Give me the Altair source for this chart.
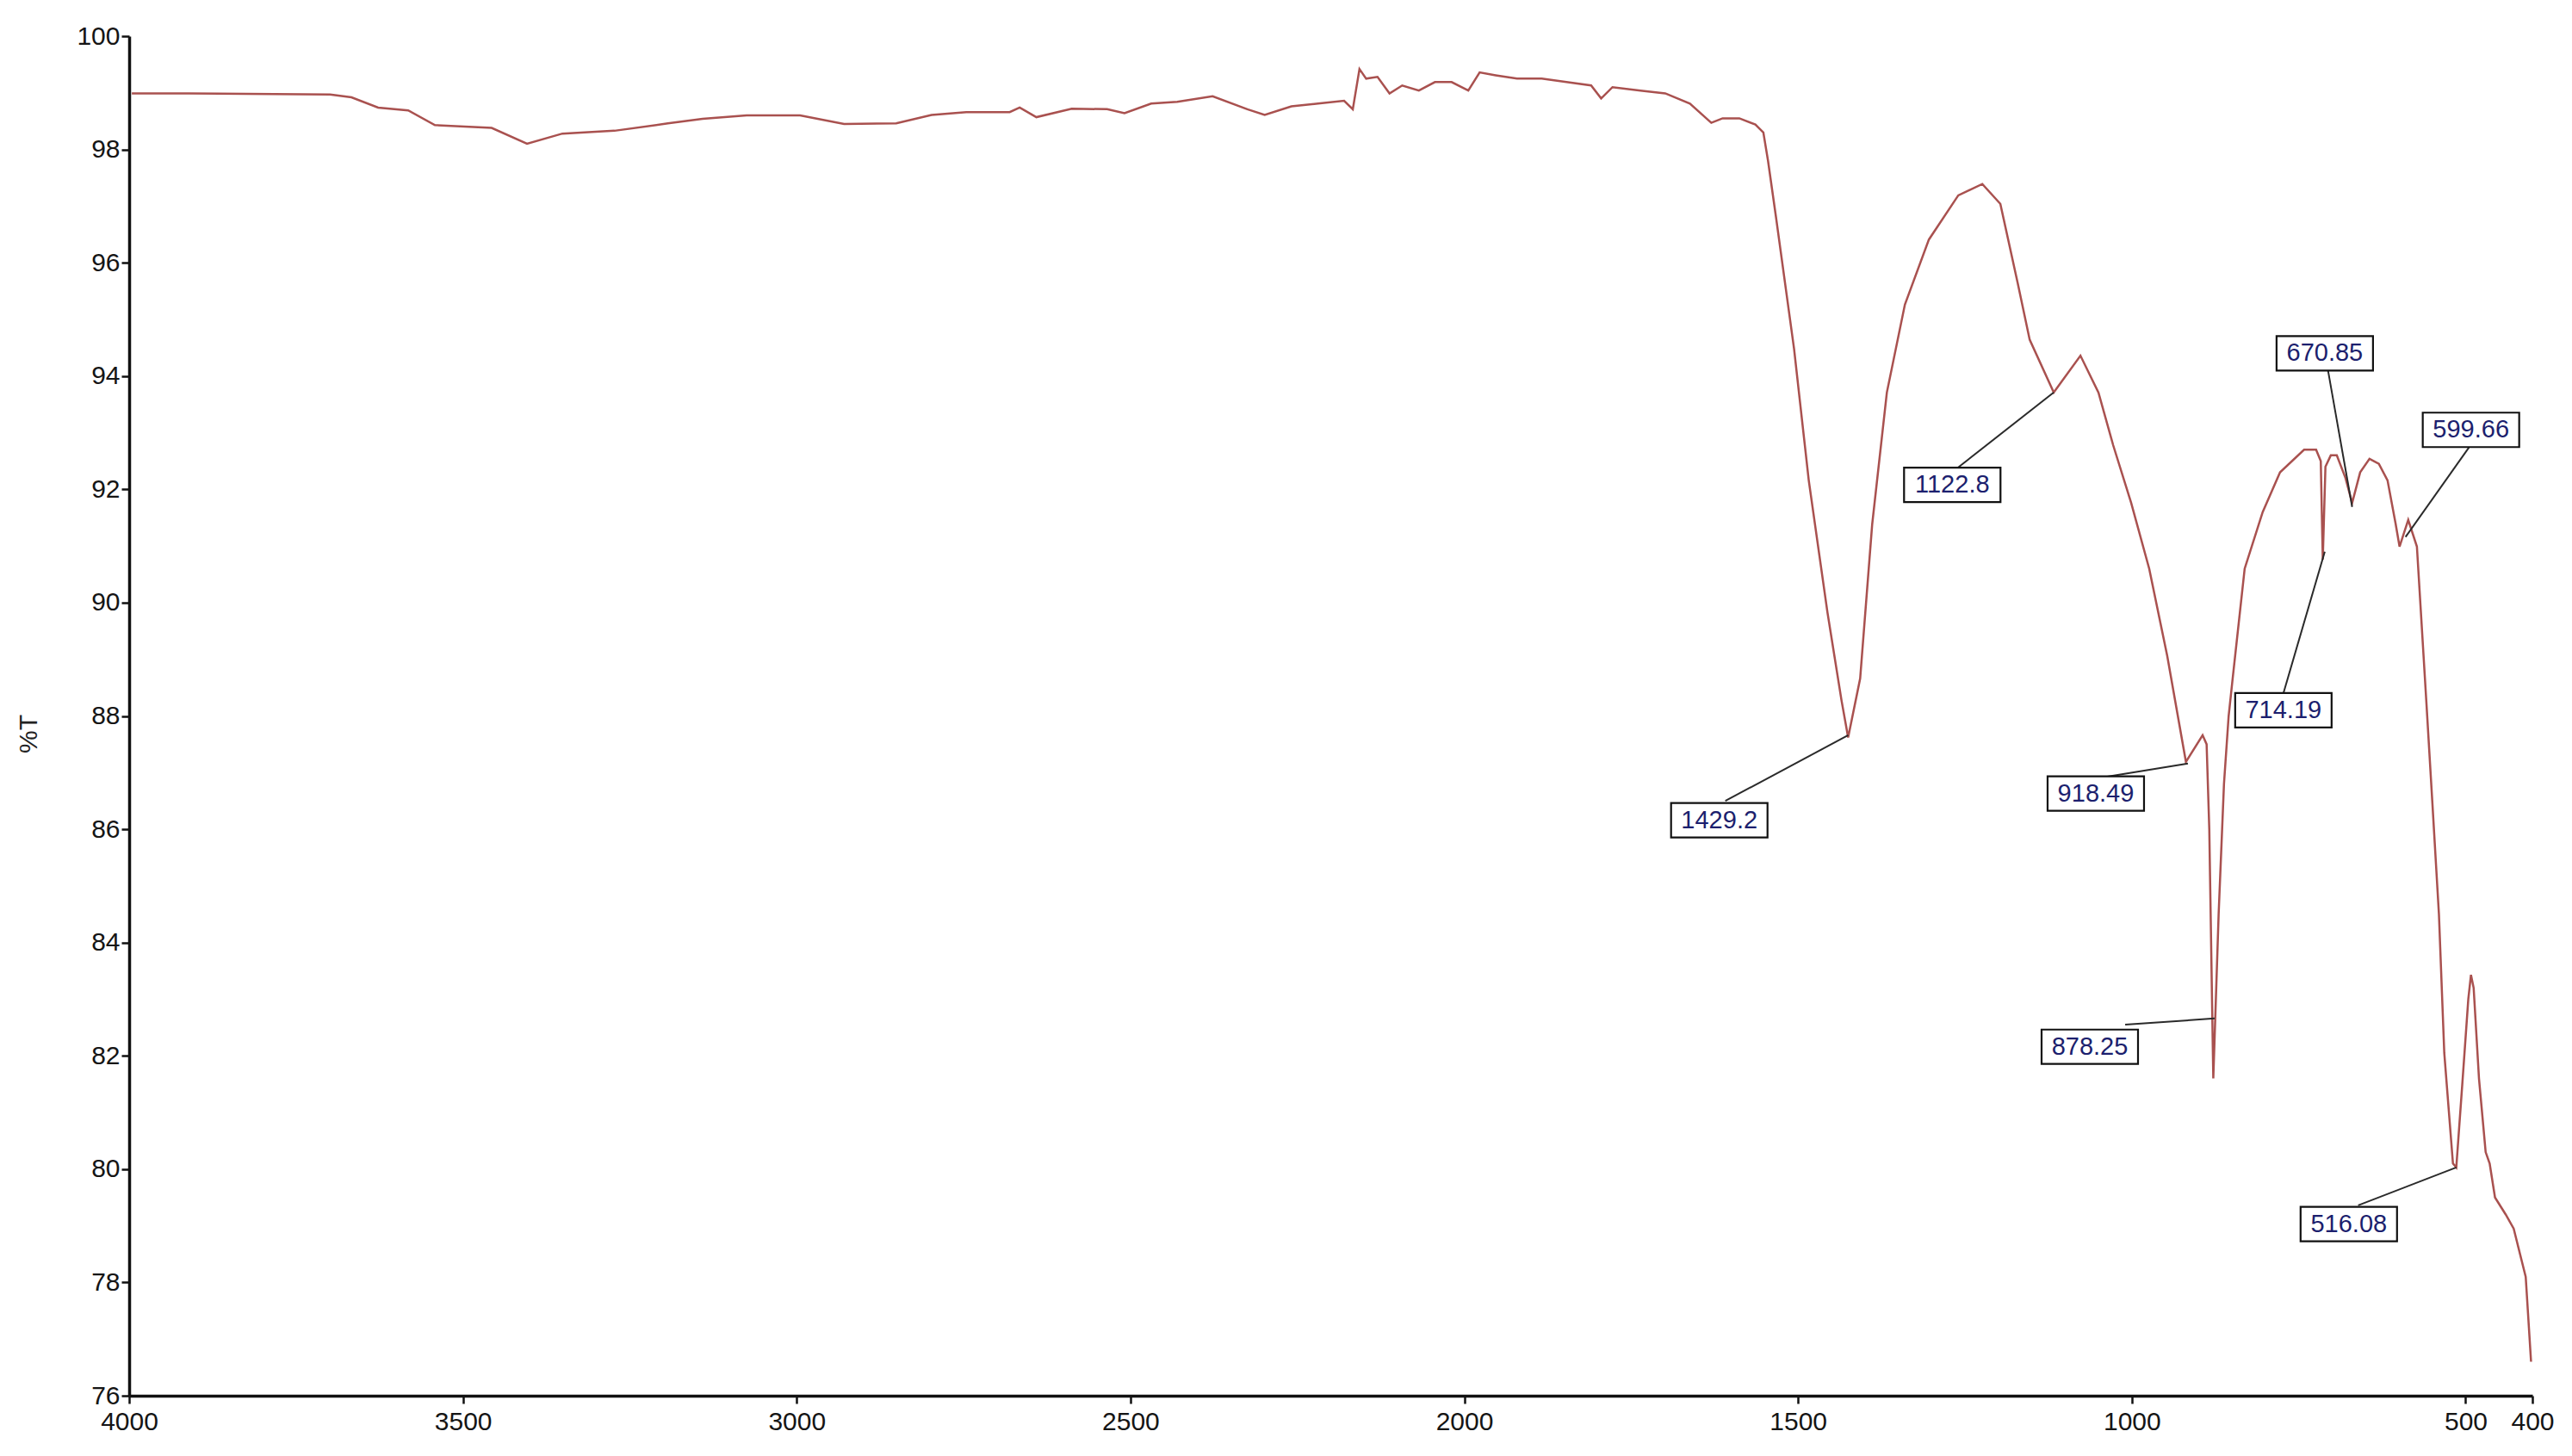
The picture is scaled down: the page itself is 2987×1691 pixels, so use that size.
import altair as alt
import pandas as pd

# ---- spectrum (wavenumber cm-1, %T) ----
wavenumber = [
    3996, 3911, 3699, 3667, 3627, 3582, 3542, 3457, 3404, 3351, 3273, 3193,
    3141, 3075, 2995, 2929, 2851, 2798, 2746, 2681, 2666, 2641, 2588, 2535,
    2509, 2469, 2430, 2377, 2325, 2299, 2259, 2219, 2180, 2167, 2157, 2147,
    2130, 2112, 2093, 2068, 2044, 2019, 1994, 1977, 1953, 1921, 1884, 1847,
    1810, 1795, 1778, 1736, 1699, 1662, 1630, 1613, 1588, 1564, 1552, 1545,
    1533, 1506, 1484, 1456, 1435, 1425, 1407, 1389, 1367, 1340, 1304, 1260,
    1224, 1197, 1171, 1153, 1117, 1077, 1050, 1028, 1001, 974, 947, 919,
    894, 888, 884, 878, 870, 862, 855, 849, 831, 804, 778, 742, 724, 717,
    714, 710, 702, 693, 680, 670, 658, 644, 630, 617, 605, 599, 586, 573,
    559, 550, 540, 532, 519, 514, 505, 496, 492, 488, 480, 470, 464, 456,
    440, 428, 410, 402,
]
transmittance = [
    98.99, 98.99, 98.97, 98.92, 98.74, 98.69, 98.43, 98.38, 98.10, 98.28, 98.33, 98.46,
    98.54, 98.60, 98.60, 98.45, 98.46, 98.61, 98.66, 98.66, 98.74, 98.57, 98.72, 98.71,
    98.64, 98.81, 98.84, 98.94, 98.71, 98.61, 98.76, 98.81, 98.86, 98.71, 99.42, 99.25,
    99.28, 98.99, 99.13, 99.04, 99.19, 99.19, 99.04, 99.36, 99.31, 99.25, 99.25, 99.19,
    99.13, 98.90, 99.10, 99.04, 98.99, 98.81, 98.47, 98.55, 98.55, 98.44, 98.30, 97.80,
    96.80, 94.48, 92.16, 89.83, 88.28, 87.62, 88.66, 91.38, 93.71, 95.26, 96.41, 97.19,
    97.39, 97.04, 95.64, 94.64, 93.71, 94.36, 93.71, 92.78, 91.76, 90.60, 89.06, 87.19,
    87.66, 87.50, 86.00, 81.60, 84.50, 86.80, 88.00, 88.66, 90.60, 91.60, 92.30, 92.70, 92.70, 92.50,
    90.76, 92.40, 92.60, 92.60, 92.20, 91.76, 92.30, 92.54, 92.45, 92.16, 91.40, 90.99, 91.46, 90.99,
    88.28, 86.50, 84.50, 82.05, 80.10, 80.03, 81.50, 83.00, 83.43, 83.20, 81.60, 80.30, 80.10, 79.50,
    79.20, 78.95, 78.10, 76.60,
]

# ---- peak annotations ----
label_text = ["1429.2", "1122.8", "918.49", "878.25", "714.19", "670.85", "599.66", "516.08"]
label_wn = [1618, 1269, 1054, 1063, 773, 711, 492, 675]
label_t = [86.16, 92.08, 86.63, 82.16, 88.10, 94.40, 93.05, 79.03]
leader_wn_from = [1609, 1260, 1037, 1010, 773, 706, 495, 661]
leader_t_from = [86.50, 92.39, 86.93, 82.55, 88.40, 94.09, 92.74, 79.36]
leader_wn_to = [1425, 1117, 916, 876, 711, 670, 590, 514]
leader_t_to = [87.66, 93.71, 87.16, 82.66, 90.90, 91.69, 91.16, 80.03]

x_ticks = [4000, 3500, 3000, 2500, 2000, 1500, 1000, 500, 400]
y_ticks = [76, 78, 80, 82, 84, 86, 88, 90, 92, 94, 96, 98, 100]

spec = pd.DataFrame({"wn": wavenumber, "t": transmittance})
labels = pd.DataFrame({"text": label_text, "wn": label_wn, "t": label_t})
leaders = pd.DataFrame({"wn": leader_wn_from, "t": leader_t_from,
                        "wn2": leader_wn_to, "t2": leader_t_to})

AXIS_FONT = "Liberation Sans Narrow, Arial Narrow, Liberation Sans, Arial"
BOX_FONT = "Liberation Sans, Arial"

x_scale = alt.Scale(domain=[400, 4000], reverse=True, nice=False, zero=False)
y_scale = alt.Scale(domain=[76, 100], nice=False, zero=False)

common = dict(grid=False, labelFlush=False, labelOverlap=False, format="d",
              domainColor="#111111", domainWidth=3.5, tickColor="#111111",
              tickWidth=2.5, tickSize=9, labelFont=AXIS_FONT,
              labelFontSize=30, labelColor="#151515", labelFontWeight="normal")

x_axis = alt.Axis(values=x_ticks, title=None, labelPadding=6, **common)
y_axis = alt.Axis(values=y_ticks, title="%T", labelPadding=2,
                  titleFont=BOX_FONT, titleFontSize=30, titleFontWeight="normal",
                  titleColor="#222222", titleX=-117, titleY=810, titleAngle=270,
                  titleAlign="center", titleBaseline="middle", **common)

line = alt.Chart(spec).mark_line(color="#a9514f", strokeWidth=2.5).encode(
    x=alt.X("wn:Q", scale=x_scale, axis=x_axis),
    y=alt.Y("t:Q", scale=y_scale, axis=y_axis),
)

rules = alt.Chart(leaders).mark_rule(color="#2a2a2a", strokeWidth=2).encode(
    x=alt.X("wn:Q", scale=x_scale), y=alt.Y("t:Q", scale=y_scale),
    x2="wn2:Q", y2="t2:Q",
)

boxes = alt.Chart(labels).mark_point(
    shape="M-1,-0.357L1,-0.357L1,0.357L-1,0.357Z", size=12544,
    filled=True, fill="white", fillOpacity=1, stroke="#111111",
    strokeWidth=2.2, opacity=1,
).encode(x=alt.X("wn:Q", scale=x_scale), y=alt.Y("t:Q", scale=y_scale))

texts = alt.Chart(labels).mark_text(
    font=BOX_FONT, fontSize=29, color="#1c1f6e", align="center", baseline="middle",
).encode(x=alt.X("wn:Q", scale=x_scale), y=alt.Y("t:Q", scale=y_scale), text="text:N")

chart = alt.layer(line, rules, boxes, texts).properties(
    width=2791, height=1579,
    autosize=alt.AutoSizeParams(type="none"),
    padding={"left": 142, "top": 34, "right": 30, "bottom": 62},
    background="white",
).configure_view(stroke=None)

chart.save("out.html", embed_options={"renderer": "svg", "actions": False})
